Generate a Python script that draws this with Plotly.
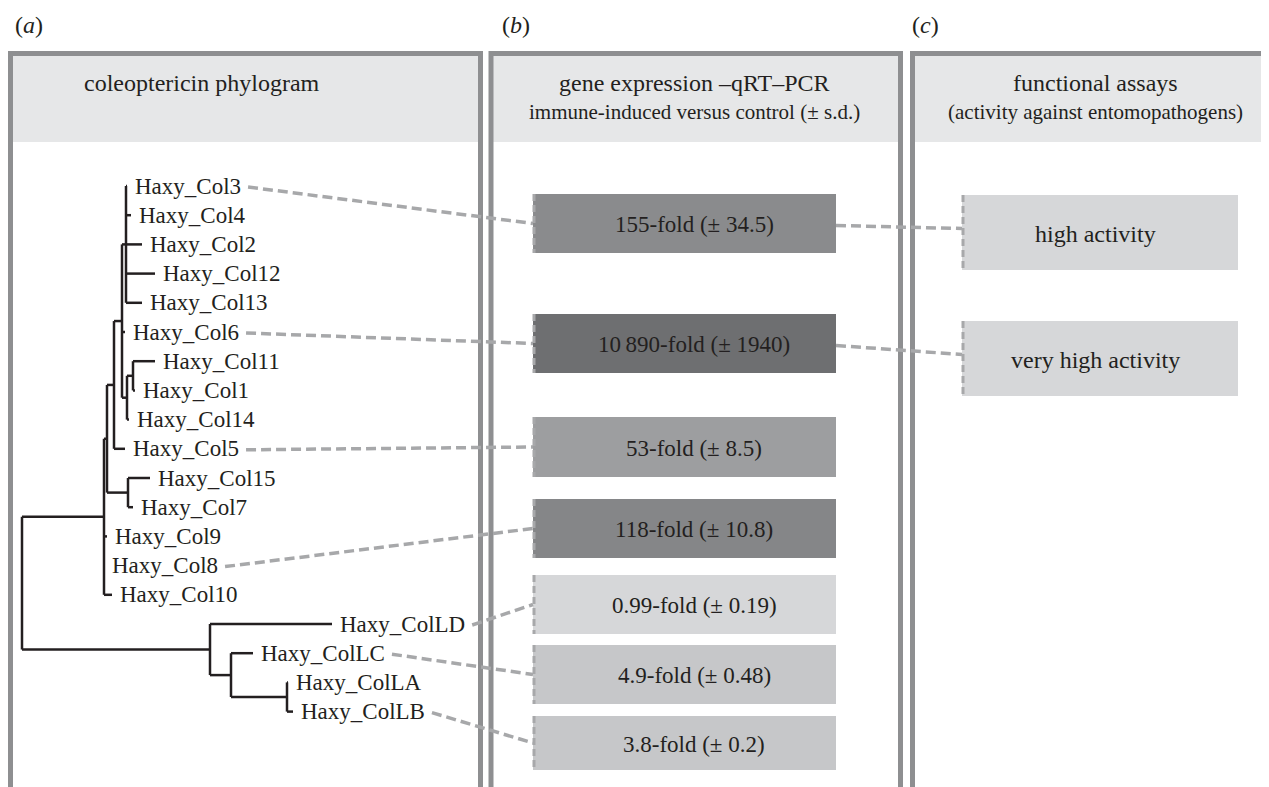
import plotly.graph_objects as go

W, H = 1269, 787

# ---------------- data ----------------
# phylogram: node, parent, depth from root (substitution units)
node_names = ["root", "Nmain", "N1", "N2", "N3", "A",
              "Haxy_Col3", "Haxy_Col4", "Haxy_Col2", "Haxy_Col12", "Haxy_Col13",
              "Haxy_Col6", "N1114", "N111", "Haxy_Col11", "Haxy_Col1", "Haxy_Col14",
              "Haxy_Col5", "N157", "Haxy_Col15", "Haxy_Col7",
              "Haxy_Col9", "Haxy_Col8", "Haxy_Col10",
              "L", "Haxy_ColLD", "LCAB", "Haxy_ColLC", "LAB", "Haxy_ColLA", "Haxy_ColLB"]
node_parents = [None, "root", "Nmain", "N1", "N2", "N3",
                "A", "A", "A", "A", "A",
                "N3", "N3", "N1114", "N111", "N111", "N1114",
                "N2", "N1", "N157", "N157",
                "Nmain", "Nmain", "Nmain",
                "root", "L", "L", "LCAB", "LCAB", "LAB", "LAB"]
node_depths = [0.00, 0.82, 0.85, 0.92, 1.00, 1.04,
               1.05, 1.09, 1.20, 1.33, 1.20,
               1.03, 1.05, 1.11, 1.33, 1.13, 1.07,
               1.03, 1.06, 1.28, 1.11,
               0.85, 0.82, 0.90,
               1.88, 3.10, 2.09, 2.31, 2.65, 2.66, 2.71]

# qRT-PCR fold induction (immune-induced vs control)
gene_links = ["Haxy_Col3", "Haxy_Col6", "Haxy_Col5", "Haxy_Col8",
              "Haxy_ColLD", "Haxy_ColLC", "Haxy_ColLB"]
fold_change = [155, 10890, 53, 118, 0.99, 4.9, 3.8]
fold_sd = [34.5, 1940, 8.5, 10.8, 0.19, 0.48, 0.2]

# functional assays
assay_labels = ["high activity", "very high activity"]
assay_links = [0, 1]  # index of gene box

panel_labels = ["a", "b", "c"]
header_titles = ["coleoptericin phylogram", "gene expression \u2013qRT\u2013PCR", "functional assays"]
header_subtitles = ["", "immune-induced versus control (\u00b1 s.d.)", "(activity against entomopathogens)"]

# ---------------- layout / style ----------------
FONT = "Liberation Serif, Tinos, Times New Roman, DejaVu Serif, serif"
INK = "#231f20"
BORDER = "#8e8f91"
BAND = "#e6e7e8"
DASH_COL = "#a7a8aa"
gene_colors = ["#8a8b8d", "#6e6f71", "#9d9ea0", "#858688", "#d6d7d9", "#c6c7c9", "#c6c7c9"]
gene_box_top = [194, 314, 417, 499, 575, 645, 716]
gene_box_h = [59, 59, 60, 59, 59, 59, 54]
GX0, GX1 = 533, 836
assay_box_top = [195, 321]
assay_box_h = 75
AX0, AX1 = 962, 1238
TREE_X0, TREE_SCALE = 22, 100
LEAF_Y0, LEAF_DY = 186, 29.2
LABEL_SIZE = 23
OFF = 8  # page body margin in the browser

panels_x = [(10.5, 480.5), (491.0, 900.5), (912.5, 1300)]
TOP_Y, BAND_Y1 = 53.5, 142

# ---------------- tree layout ----------------
children = {n: [] for n in node_names}
for n, p in zip(node_names, node_parents):
    if p is not None:
        children[p].append(n)
depth = dict(zip(node_names, node_depths))
xpos = {n: TREE_X0 + depth[n] * TREE_SCALE for n in node_names}
ypos = {}
leaf_counter = [0]


def place(n):
    if not children[n]:
        ypos[n] = LEAF_Y0 + leaf_counter[0] * LEAF_DY
        leaf_counter[0] += 1
    else:
        for c in children[n]:
            place(c)
        ypos[n] = (ypos[children[n][0]] + ypos[children[n][-1]]) / 2


place("root")

tx, ty = [], []
for n in node_names:
    ch = children[n]
    if ch:
        tx += [xpos[n], xpos[n], None]
        ty += [ypos[ch[0]], ypos[ch[-1]], None]
        for c in ch:
            tx += [xpos[n], xpos[c], None]
            ty += [ypos[c], ypos[c], None]

leaves = [n for n in node_names if not children[n]]

TIMES_W = {'H': .722, 'a': .444, 'x': .5, 'y': .5, '_': .5, 'C': .667, 'o': .5,
           'l': .278, 'L': .611, 'D': .722, 'A': .722, 'B': .667}


def text_w(s, size):
    return sum(TIMES_W.get(ch, .5) for ch in s) * size


fig = go.Figure()

shapes = []
# header bands
for (x0, x1) in panels_x:
    shapes.append(dict(type="rect", xref="x", yref="y", x0=x0, x1=x1, y0=TOP_Y, y1=BAND_Y1,
                       fillcolor=BAND, line=dict(width=0), layer="below"))
# panel borders
for (x0, x1) in panels_x:
    shapes.append(dict(type="rect", xref="x", yref="y", x0=x0, x1=x1, y0=TOP_Y, y1=H + 30,
                       fillcolor="rgba(0,0,0,0)", line=dict(color=BORDER, width=5), layer="below"))
# gene boxes
for i, (t, h) in enumerate(zip(gene_box_top, gene_box_h)):
    shapes.append(dict(type="rect", xref="x", yref="y", x0=GX0, x1=GX1, y0=t, y1=t + h,
                       fillcolor=gene_colors[i], line=dict(width=0), layer="below"))
    shapes.append(dict(type="line", xref="x", yref="y", x0=GX0 + 1, x1=GX0 + 1, y0=t, y1=t + h,
                       line=dict(color=DASH_COL, width=3, dash="7px,4px"), layer="below"))
# assay boxes
for t in assay_box_top:
    shapes.append(dict(type="rect", xref="x", yref="y", x0=AX0, x1=AX1, y0=t, y1=t + assay_box_h,
                       fillcolor="#d6d7d9", line=dict(width=0), layer="below"))
    shapes.append(dict(type="line", xref="x", yref="y", x0=AX0 + 1, x1=AX0 + 1, y0=t, y1=t + assay_box_h,
                       line=dict(color=DASH_COL, width=3, dash="7px,4px"), layer="below"))

# tree
fig.add_trace(go.Scatter(x=tx, y=ty, mode="lines", line=dict(color=INK, width=2.5),
                         hoverinfo="skip", showlegend=False))

# connectors tree -> gene boxes
cx, cy = [], []
for i, leaf in enumerate(gene_links):
    x_start = xpos[leaf] + 6 + text_w(leaf, LABEL_SIZE) + 9
    cx += [x_start, GX0, None]
    cy += [ypos[leaf] + 1, gene_box_top[i] + gene_box_h[i] / 2, None]
# connectors gene boxes -> assay boxes
for j, gi in enumerate(assay_links):
    cx += [GX1, AX0, None]
    cy += [gene_box_top[gi] + gene_box_h[gi] / 2 + 2, assay_box_top[j] + assay_box_h / 2 - 4, None]
fig.add_trace(go.Scatter(x=cx, y=cy, mode="lines",
                         line=dict(color=DASH_COL, width=3.5, dash="10px,5px"),
                         hoverinfo="skip", showlegend=False))

ann = []
# leaf labels
for leaf in leaves:
    ann.append(dict(x=xpos[leaf] + 6, y=ypos[leaf], text=leaf, xanchor="left", yanchor="middle",
                    showarrow=False, font=dict(family=FONT, size=LABEL_SIZE, color=INK)))


def fmt_num(v):
    s = f"{v:g}"
    if v >= 10000:
        s = f"{int(v) // 1000}\u2009{int(v) % 1000:03d}"
    return s


for i, (f, sd) in enumerate(zip(fold_change, fold_sd)):
    ann.append(dict(x=694, y=gene_box_top[i] + gene_box_h[i] / 2 + 1,
                    text=f"{fmt_num(f)}-fold (\u00b1 {fmt_num(sd)})",
                    xanchor="center", yanchor="middle", showarrow=False,
                    font=dict(family=FONT, size=LABEL_SIZE, color=INK)))
for j, lab in enumerate(assay_labels):
    ann.append(dict(x=(AX0 + AX1) / 2 - 5, y=assay_box_top[j] + assay_box_h / 2 + 1, text=lab,
                    xanchor="center", yanchor="middle", showarrow=False,
                    font=dict(family=FONT, size=24, color=INK)))

# panel letters and headers
letter_x = [13, 500, 910]
for k in range(3):
    ann.append(dict(x=letter_x[k], y=25, text=f"(<i>{panel_labels[k]}</i>)", xanchor="left",
                    yanchor="middle", showarrow=False, font=dict(family=FONT, size=24, color=INK)))
header_x = [82, 694, 1095]
header_anchor = ["left", "center", "center"]
for k in range(3):
    ann.append(dict(x=header_x[k], y=83, text=header_titles[k], xanchor=header_anchor[k],
                    yanchor="middle", showarrow=False, font=dict(family=FONT, size=24, color=INK)))
    if header_subtitles[k]:
        ann.append(dict(x=header_x[k], y=112, text=header_subtitles[k], xanchor="center",
                        yanchor="middle", showarrow=False, font=dict(family=FONT, size=21, color=INK)))

fig.update_layout(
    width=W, height=H, margin=dict(l=0, r=0, t=0, b=0),
    paper_bgcolor="white", plot_bgcolor="white",
    xaxis=dict(range=[OFF, W + OFF], visible=False, fixedrange=True),
    yaxis=dict(range=[H + OFF, OFF], visible=False, fixedrange=True),
    shapes=shapes, annotations=ann, showlegend=False,
)

fig.write_html("out.html")
